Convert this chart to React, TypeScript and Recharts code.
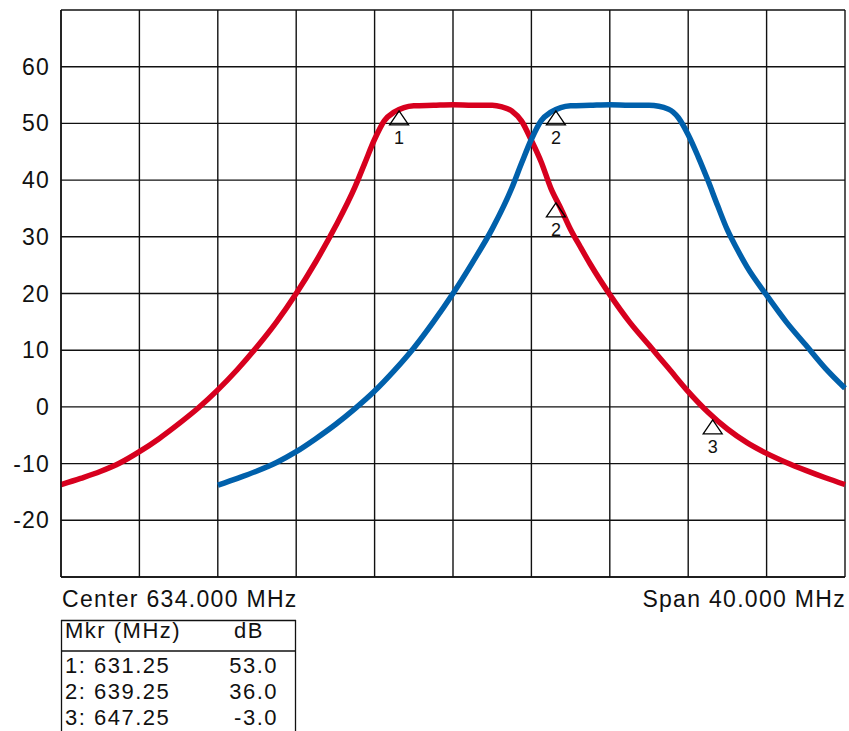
import React from 'react';
import { LineChart, Line, XAxis, YAxis, CartesianGrid, ReferenceDot } from 'recharts';

// trace 1 (red)
const redFreq = [614, 615, 616, 617, 618, 619, 620, 621, 622, 623, 624, 625, 626, 627, 628, 629, 629.5, 630, 630.5, 631, 631.5, 632, 633, 634, 635, 636, 636.5, 637, 637.5, 638, 638.5, 639, 639.5, 640, 640.5, 641, 642, 643, 644, 645, 646, 647, 648, 649, 650, 651, 652, 653, 654];
const redDb = [-13.7, -12.6, -11.4, -9.9, -7.9, -5.6, -3.0, -0.2, 3.0, 6.6, 10.6, 15.0, 20.0, 25.6, 31.8, 38.8, 43.0, 47.2, 50.5, 52.0, 52.8, 53.1, 53.2, 53.3, 53.2, 53.2, 52.9, 52.2, 50.4, 47.0, 43.2, 38.5, 35.0, 31.3, 28.2, 25.2, 19.8, 15.0, 10.9, 6.8, 2.7, -0.9, -3.9, -6.3, -8.2, -9.8, -11.2, -12.5, -13.7];

// trace 2 (blue)
const blueFreq = [622, 623, 624, 625, 626, 627, 628, 629, 630, 631, 632, 633, 634, 635, 636, 637, 637.5, 638, 638.5, 639, 639.5, 640, 641, 642, 643, 644, 645, 645.5, 646, 646.5, 647, 647.5, 648, 648.5, 649, 650, 651, 652, 653, 654];
const blueDb = [-13.8, -12.6, -11.3, -9.8, -7.9, -5.6, -3.1, -0.3, 2.8, 6.4, 10.4, 15.0, 20.0, 25.5, 31.4, 38.6, 43.0, 47.2, 50.5, 52.0, 52.8, 53.1, 53.2, 53.3, 53.2, 53.2, 52.5, 51.0, 48.0, 44.2, 40.0, 35.5, 31.2, 27.8, 24.7, 19.7, 15.0, 10.9, 6.8, 3.3];

const xTicks = [614, 618, 622, 626, 630, 634, 638, 642, 646, 650, 654];
const yTicks = [-30, -20, -10, 0, 10, 20, 30, 40, 50, 60, 70];
const yLabelled = [-20, -10, 0, 10, 20, 30, 40, 50, 60];

// marker table
const markerNames = ['1', '2', '3'];
const markerFreq = [631.25, 639.25, 647.25];
const markerDb = [53.0, 36.0, -3.0];
// where the triangles sit on screen
const markerTraceDb = [52.2, 36.0, -2.3];
const blueMarkerName = '2';
const blueMarkerFreq = 639.25;
const blueMarkerDb = 52.2;

const centerLabel = 'Center 634.000 MHz';
const spanLabel = 'Span 40.000 MHz';
const tableHead = ['Mkr (MHz)', 'dB'];

const FONT = '"Liberation Sans", Arial, sans-serif';
const X_MIN = 614;
const X_MAX = 654;
const Y_MIN = -30;
const Y_MAX = 70;

const redData = redFreq.map((f, i) => ({ f, v: redDb[i] }));
const blueData = blueFreq.map((f, i) => ({ f, v: blueDb[i] }));

const markerShape = (label: string) => (props: any) => {
  const { cx, cy } = props;
  return (
    <g>
      <polygon
        points={`${cx},${cy} ${cx - 9.5},${cy + 14} ${cx + 9.5},${cy + 14}`}
        fill="none"
        stroke="#000"
        strokeWidth={1.3}
      />
      <text x={cx} y={cy + 33} textAnchor="middle" fontSize={18} fontFamily={FONT} fill="#111">
        {label}
      </text>
    </g>
  );
};

const YTick = (props: any) => {
  const { x, y, payload } = props;
  if (!yLabelled.includes(payload.value)) return null;
  return (
    <text x={x} y={y + 8} textAnchor="end" fontSize={23} fontFamily={FONT} fill="#111" letterSpacing={1.2}>
      {payload.value}
    </text>
  );
};

export default function App() {
  return (
    <div style={{ position: 'absolute', left: 0, top: 0, width: 849, height: 731, overflow: 'hidden', background: '#fff' }}>
      <LineChart width={849} height={578} margin={{ top: 10, right: 4, left: 0, bottom: 0 }}>
        <CartesianGrid
          stroke="#111"
          strokeWidth={1.4}
          verticalCoordinatesGenerator={({ offset }: any) =>
            xTicks.map(t => offset.left + ((t - X_MIN) / (X_MAX - X_MIN)) * offset.width)
          }
          horizontalCoordinatesGenerator={({ offset }: any) =>
            yTicks.map(t => offset.top + ((Y_MAX - t) / (Y_MAX - Y_MIN)) * offset.height)
          }
        />
        <XAxis
          type="number"
          dataKey="f"
          domain={[X_MIN, X_MAX]}
          ticks={xTicks}
          tick={false}
          tickLine={false}
          axisLine={{ stroke: '#111', strokeWidth: 1.4 }}
          height={1}
          allowDuplicatedCategory={false}
        />
        <YAxis
          type="number"
          domain={[Y_MIN, Y_MAX]}
          ticks={yTicks}
          width={61}
          tickLine={false}
          tickSize={0}
          tickMargin={11}
          tick={<YTick />}
          axisLine={{ stroke: '#111', strokeWidth: 1.4 }}
        />
        <Line data={redData} dataKey="v" type="monotone" stroke="#d7001e" strokeWidth={5.5} dot={false} isAnimationActive={false} />
        <Line data={blueData} dataKey="v" type="monotone" stroke="#0060ab" strokeWidth={5.5} dot={false} isAnimationActive={false} />
        {markerNames.map((m, i) => (
          <ReferenceDot key={'m' + i} x={markerFreq[i]} y={markerTraceDb[i]} shape={markerShape(m)} />
        ))}
        <ReferenceDot x={blueMarkerFreq} y={blueMarkerDb} shape={markerShape(blueMarkerName)} />
      </LineChart>
      <svg width={849} height={731} style={{ position: 'absolute', left: 0, top: 0, pointerEvents: 'none' }}>
        <g fontFamily={FONT} fill="#111">
          <text x={62} y={607} fontSize={23} letterSpacing={1.3}>{centerLabel}</text>
          <text x={846} y={607} fontSize={23} letterSpacing={1.3} textAnchor="end">{spanLabel}</text>
          <line x1={61} y1={620.5} x2={296} y2={620.5} stroke="#111" strokeWidth={1.3} />
          <line x1={61} y1={651} x2={296} y2={651} stroke="#111" strokeWidth={1.3} />
          <line x1={61.5} y1={620} x2={61.5} y2={731} stroke="#111" strokeWidth={1.3} />
          <line x1={295.5} y1={620} x2={295.5} y2={731} stroke="#111" strokeWidth={1.3} />
          <text x={65} y={638} fontSize={22} letterSpacing={1.5}>{tableHead[0]}</text>
          <text x={234} y={638} fontSize={22} letterSpacing={1.5}>{tableHead[1]}</text>
          {markerNames.map((m, i) => (
            <g key={'r' + i}>
              <text x={65} y={673 + i * 26} fontSize={22} letterSpacing={1.5}>{`${m}: ${markerFreq[i].toFixed(2)}`}</text>
              <text x={278} y={673 + i * 26} fontSize={22} letterSpacing={1.5} textAnchor="end">{markerDb[i].toFixed(1)}</text>
            </g>
          ))}
        </g>
      </svg>
    </div>
  );
}
